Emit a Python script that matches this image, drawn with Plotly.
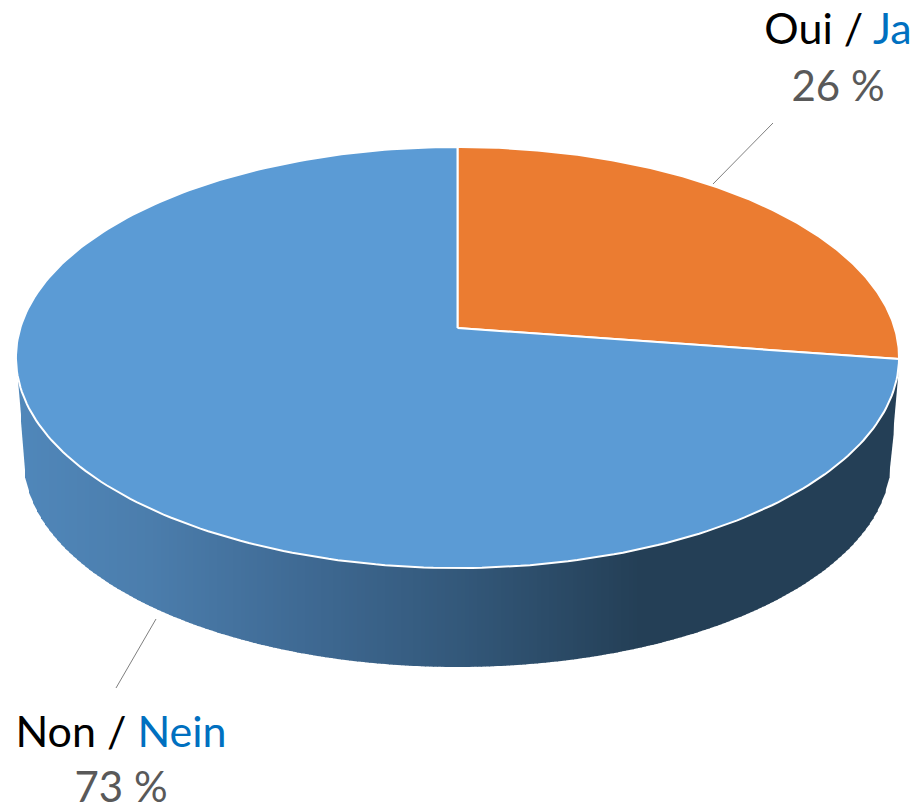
import numpy as np
import plotly.graph_objects as go

# Data
categories_fr = ["Oui", "Non"]
categories_de = ["Ja", "Nein"]
percent_labels = [26, 73]
drawn_shares = [27.35, 72.65]  # slice extent as drawn
slice_colors = ["#EB7C31", "#5B9BD5"]
wall_x_stops = [17, 150, 300, 460, 640, 897]
wall_color_stops = [(80, 135, 186), (75, 125, 172), (63, 106, 148), (51, 88, 122), (36, 63, 86), (36, 63, 86)]

# Projection of the pie's top face
X0, Y0, A, B, K = 457.5, 328.0, 206.4, 437.2, 0.14
def proj(t):
    u, v = np.cos(t), np.sin(t)
    return X0 + B * u / (1 + K * v), Y0 - A * v / (1 + K * v)

fig = go.Figure()

# Side wall, as thin vertical strips
TOP_CY, TOP_RX, TOP_RY = 357.5, 441.5, 210.5
BOT_CX, BOT_CY, BOT_RX, BOT_RY = 457.0, 460.0, 433.5, 207.0
edges = np.arange(17, 898, 4.0)
edges[-1] = 897.5
def top_y(x):
    s = np.clip((x - X0) / TOP_RX, -1, 1)
    return TOP_CY + TOP_RY * np.sqrt(1 - s * s)
def bot_y(x):
    s = np.clip((x - BOT_CX) / BOT_RX, -1, 1)
    y = BOT_CY + BOT_RY * np.sqrt(1 - s * s)
    if abs(x - BOT_CX) > BOT_RX:
        d = abs(x - X0)
        y = BOT_CY - (d - BOT_RX) / (TOP_RX - BOT_RX) * (BOT_CY - TOP_CY)
    return y
stops = np.array(wall_color_stops, dtype=float)
for x1, x2 in zip(edges[:-1], edges[1:]):
    xm = (x1 + x2) / 2
    rgb = [int(round(np.interp(xm, wall_x_stops, stops[:, i]))) for i in range(3)]
    c = f"rgb({rgb[0]},{rgb[1]},{rgb[2]})"
    fig.add_trace(go.Scatter(
        x=[x1, x2 + 0.6, x2 + 0.6, x1, x1],
        y=[top_y(x1) - 3, top_y(x2) - 3, bot_y(x2), bot_y(x1), top_y(x1) - 3],
        mode="lines", fill="toself", fillcolor=c, line=dict(width=0),
        hoverinfo="skip", showlegend=False))

# Top face slices
cum = 0.0
total = sum(drawn_shares)
for share, col in zip(drawn_shares, slice_colors):
    t = np.pi / 2 - 2 * np.pi * np.linspace(cum, cum + share / total, 240)
    px, py = proj(t)
    fig.add_trace(go.Scatter(
        x=np.r_[X0, px, X0], y=np.r_[Y0, py, Y0],
        mode="lines", fill="toself", fillcolor=col,
        line=dict(color="white", width=2),
        hoverinfo="skip", showlegend=False))
    cum += share / total

# Leader lines
for lx, ly in [([773, 713], [123, 184]), ([156, 116], [619, 688])]:
    fig.add_trace(go.Scatter(x=lx, y=ly, mode="lines",
                             line=dict(color="#7F7F7F", width=1),
                             hoverinfo="skip", showlegend=False))

# Labels
label_x = [838, 121]
name_y = [33, 736]
pct_y = [90, 791]
names = [f"{fr} / <span style='color:#0070C0'>{de}</span>" for fr, de in zip(categories_fr, categories_de)]
fig.add_trace(go.Scatter(x=label_x, y=name_y, mode="text", text=names,
                         textfont=dict(family="Lato", size=43, color="black"),
                         hoverinfo="skip", showlegend=False, cliponaxis=False))
fig.add_trace(go.Scatter(x=label_x, y=pct_y, mode="text", text=[f"{p} %" for p in percent_labels],
                         textfont=dict(family="Lato", size=42, color="#595959"),
                         hoverinfo="skip", showlegend=False, cliponaxis=False))

fig.update_layout(
    width=917, height=809, margin=dict(l=0, r=0, t=0, b=0),
    paper_bgcolor="white", plot_bgcolor="white",
    xaxis=dict(range=[0, 917], visible=False, fixedrange=True),
    yaxis=dict(range=[809, 0], visible=False, fixedrange=True),
)
# Remove the page's default body margin so the figure fills the window exactly
fig.write_html("out.html", config={"displayModeBar": False},
               post_script="document.body.style.margin='0';document.body.style.overflow='hidden';")
